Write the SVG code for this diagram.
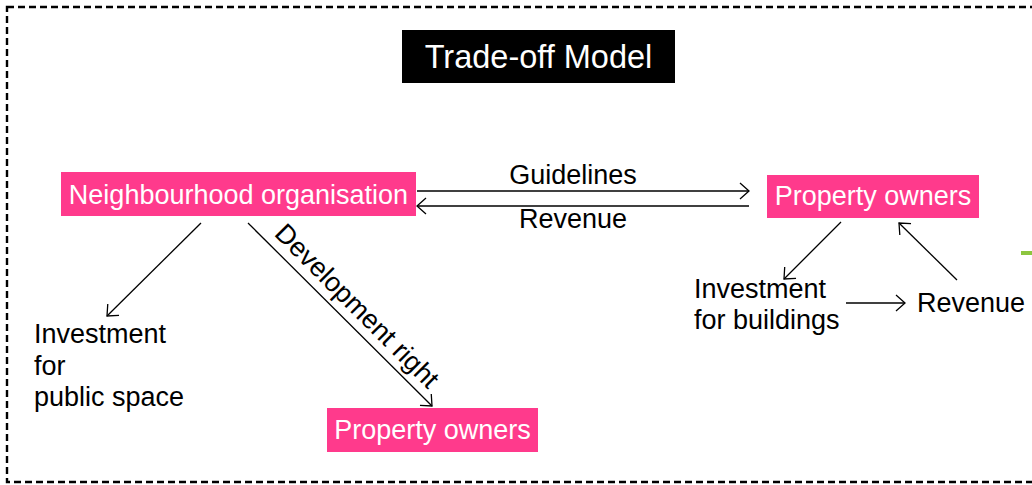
<svg xmlns="http://www.w3.org/2000/svg" width="1032" height="485" viewBox="0 0 1032 485">
  <defs>
    <marker id="arr" viewBox="-12 -10 14 20" refX="0" refY="0" markerWidth="14" markerHeight="20" markerUnits="userSpaceOnUse" orient="auto">
      <path d="M-9,-8 L0,0 L-9,8" fill="none" stroke="#000" stroke-width="1.3"/>
    </marker>
  </defs>
  <style>
    .lbl { font-family: "Liberation Sans", Arial, sans-serif; font-size: 27px; fill: #000; }
    .nodeText { font-family: "Liberation Sans", Arial, sans-serif; font-size: 27px; fill: #fff; text-anchor: middle; }
    .pink { fill: #ff3a8c; }
    .conn { stroke: #000; stroke-width: 1.3; fill: none; marker-end: url(#arr); }
  </style>
  <rect x="0" y="0" width="1032" height="485" fill="#fff"/>
  <rect x="7" y="7" width="1040" height="475" fill="none" stroke="#000" stroke-width="2.4" stroke-dasharray="7 4"/>

  <g id="title">
    <rect x="402" y="30" width="273" height="53" fill="#000"/>
    <text x="538.5" y="68" style="font-family: 'Liberation Sans', Arial, sans-serif; font-size: 32.5px; fill: #fff; text-anchor: middle;">Trade-off Model</text>
  </g>

  <g id="neighbourhood-organisation">
    <rect class="pink" x="61" y="172" width="355" height="44"/>
    <text class="nodeText" x="238.5" y="204">Neighbourhood organisation</text>
  </g>

  <g id="property-owners-right">
    <rect class="pink" x="767" y="175" width="212" height="43"/>
    <text class="nodeText" x="873" y="205">Property owners</text>
  </g>

  <g id="property-owners-bottom">
    <rect class="pink" x="327" y="408" width="211" height="44"/>
    <text class="nodeText" x="432.5" y="439">Property owners</text>
  </g>

  <g id="investment-public-space">
    <text class="lbl" x="34" y="343">Investment</text>
    <text class="lbl" x="34" y="375">for</text>
    <text class="lbl" x="34" y="406">public space</text>
  </g>

  <g id="investment-buildings">
    <text class="lbl" x="694" y="298">Investment</text>
    <text class="lbl" x="694" y="329">for buildings</text>
  </g>

  <g id="revenue-right">
    <text class="lbl" x="917" y="312">Revenue</text>
  </g>

  <g id="connectors">
    <path class="conn" d="M417,191 H749"/>
    <path class="conn" d="M749,206 H417"/>
    <path class="conn" d="M201,223 L107,316"/>
    <path class="conn" d="M248,223 L432,406"/>
    <path class="conn" d="M841,222 L784,279"/>
    <path class="conn" d="M957,280 L899,223"/>
    <path class="conn" d="M846,303 H905"/>
    <text class="lbl" x="573" y="184" text-anchor="middle">Guidelines</text>
    <text class="lbl" x="573" y="228" text-anchor="middle">Revenue</text>
    <text class="lbl" text-anchor="middle" transform="translate(345,318) rotate(45)" x="0" y="-8">Development right</text>
  </g>

  <rect x="1021" y="251" width="11" height="4" fill="#8dc63f"/>
</svg>
